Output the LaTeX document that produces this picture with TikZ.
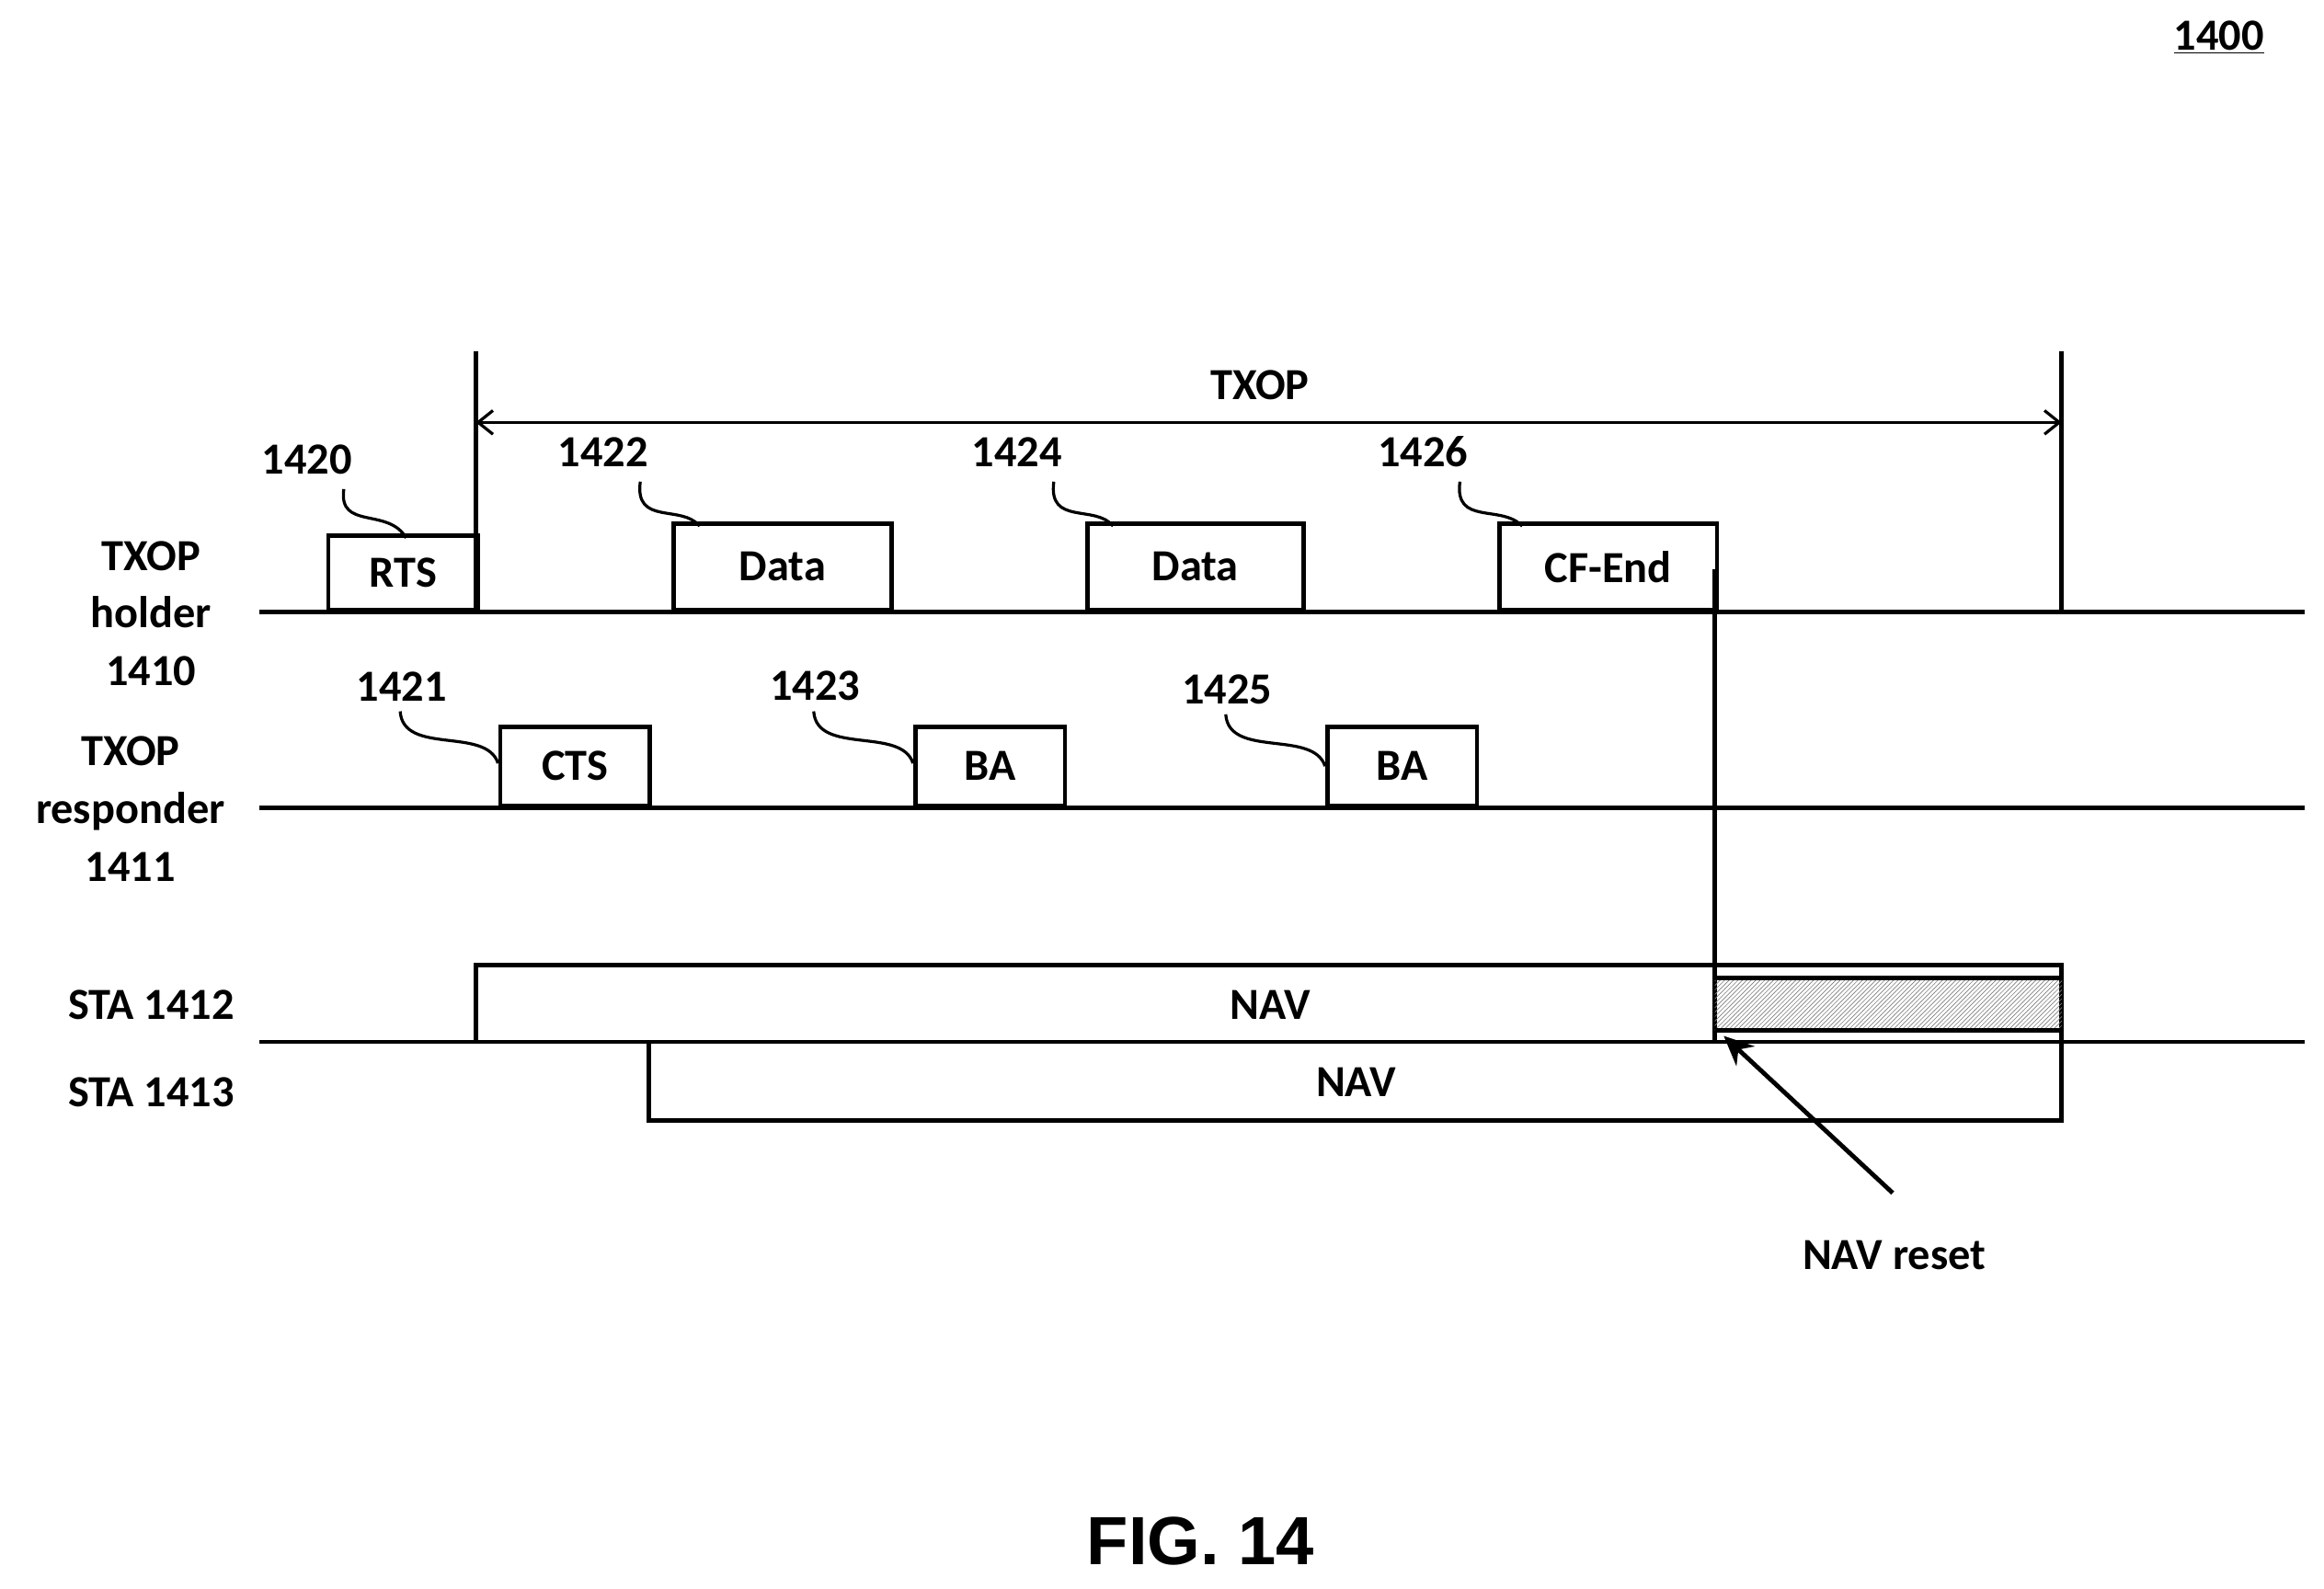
\documentclass[tikz,border=0pt]{standalone}
\usepackage{fontspec}
\setmainfont{Carlito}
\newfontfamily\arialf{Liberation Sans}
\usetikzlibrary{patterns,arrows.meta}
\begin{document}
\begin{tikzpicture}[x=1pt,y=-1pt,line width=3pt,
  lbl/.style={font=\fontsize{30}{36}\selectfont\bfseries},
  box/.style={draw,line width=3pt},
  call/.style={line width=2pt}]
\useasboundingbox (0,0) rectangle (1568,1072);
% lines
\draw (175,413) -- (1555,413);
\draw (175,545) -- (1555,545);
\draw (175,703) -- (1555,703);
% TXOP
\draw (321,237) -- (321,413);
\draw (1391,237) -- (1391,413);
\draw[{Straight Barb[length=10pt,width=16pt]}-{Straight Barb[length=10pt,width=16pt]},line width=2pt] (321,285) -- (1391,285);
\node[lbl] (txop) at (850,260) {TXOP};
% holder frames
\node[box,minimum width=101pt,minimum height=50pt,anchor=south west,lbl] (rts) at (220,413) {RTS};
\node[box,minimum width=147pt,minimum height=58pt,anchor=south west,lbl] (d1) at (453,413) {Data};
\node[box,minimum width=146pt,minimum height=58pt,anchor=south west,lbl] (d2) at (732,413) {Data};
\node[box,minimum width=147pt,minimum height=58pt,anchor=south west,lbl] (cf) at (1010,413) {CF-End};
% responder frames
\node[box,minimum width=101pt,minimum height=53pt,anchor=south west,lbl] (cts) at (336,545) {CTS};
\node[box,minimum width=101pt,minimum height=53pt,anchor=south west,lbl] (ba1) at (616,545) {BA};
\node[box,minimum width=101pt,minimum height=53pt,anchor=south west,lbl] (ba2) at (894,545) {BA};
% NAV reset line
\draw (1157,384) -- (1157,703);
% STA 1412 NAV
\draw (321,703) -- (321,651) -- (1391,651) -- (1391,703);
\fill[pattern=north east lines,pattern color=gray] (1157,660) rectangle (1391,695);
\draw (1157,660) -- (1391,660);
\draw (1157,695) -- (1391,695);
\node[lbl] (nav1) at (857,678) {NAV};
% STA 1413 NAV
\draw (438,703) -- (438,756) -- (1391,756) -- (1391,703);
\node[lbl] (nav2) at (915,730) {NAV};
% NAV reset arrow
\coordinate (ra) at (1277,805);
\coordinate (rb) at (1163,699);
\draw[-{Stealth[length=20pt,width=18pt]},line width=3pt] (ra) -- (rb);
\node[lbl] (navreset) at (1278,847) {NAV reset};
% left labels
\node[lbl,align=center] (holder) at (102,414) {TXOP\\[3pt]holder\\[3pt]1410};
\node[lbl,align=center] (resp) at (88,546) {TXOP\\[3pt]responder\\[3pt]1411};
\node[lbl] (sta1) at (102,678) {STA 1412};
\node[lbl] (sta2) at (102,737) {STA 1413};
% callouts
\node[lbl] (c1420) at (207,310) {1420};
\draw[call] (232,330) .. controls (228,358) and (262,342) .. (274,363);
\node[lbl] (c1422) at (407,305) {1422};
\draw[call] (432,325) .. controls (428,355) and (460,340) .. (472,355);
\node[lbl] (c1424) at (686,305) {1424};
\draw[call] (711,325) .. controls (707,355) and (739,340) .. (751,355);
\node[lbl] (c1426) at (960,305) {1426};
\draw[call] (985,325) .. controls (981,355) and (1013,340) .. (1027,355);
\node[lbl] (c1421) at (271,463) {1421};
\draw[call] (270,480) .. controls (272,510) and (328,490) .. (336,515);
\node[lbl] (c1423) at (550,463) {1423};
\draw[call] (549,480) .. controls (551,510) and (608,490) .. (616,515);
\node[lbl] (c1425) at (828,465) {1425};
\draw[call] (827,482) .. controls (829,512) and (886,492) .. (894,517);
% figure id
\node[lbl] (n1400) at (1497,25) {\underline{1400}};
\node[font=\arialf\fontsize{46}{50}\selectfont\bfseries] (fig) at (810,1040) {FIG. 14};
\end{tikzpicture}
\end{document}
